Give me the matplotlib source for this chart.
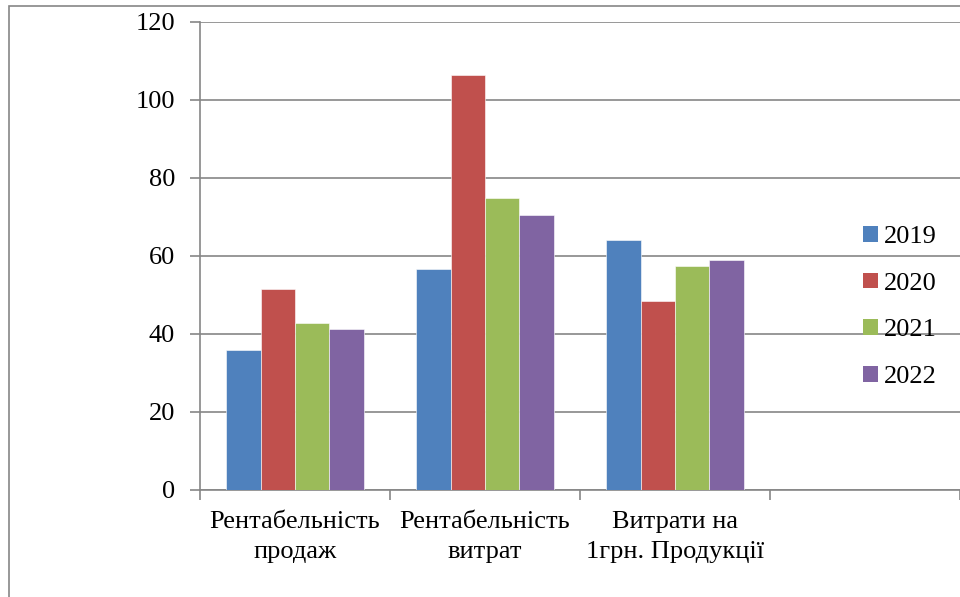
import matplotlib
matplotlib.use("Agg")
import matplotlib.pyplot as plt
from matplotlib.patches import Patch, Rectangle
import numpy as np

categories = ["Рентабельність\nпродаж", "Рентабельність\nвитрат", "Витрати на\n1грн. Продукції", ""]
years = ["2019", "2020", "2021", "2022"]
v2019 = [36.0, 56.6, 64.0]
v2020 = [51.6, 106.4, 48.5]
v2021 = [42.7, 74.9, 57.4]
v2022 = [41.4, 70.6, 58.9]
colors = ["#4F81BD", "#C0504D", "#9BBB59", "#8064A2"]
yticks = [0, 20, 40, 60, 80, 100, 120]

plt.rcParams["font.family"] = ["Liberation Serif", "DejaVu Serif"]
grid_col = "#868686"
fs = 19

fig = plt.figure(figsize=(9.6, 5.97), dpi=100)
ax = fig.add_axes([200 / 960, 107 / 597, 760 / 960, 468 / 597])

series = [v2019, v2020, v2021, v2022]
x = np.arange(len(v2019))
bw = 0.726 / 4
for i, (vals, col, yr) in enumerate(zip(series, colors, years)):
    ax.bar(x - 0.363 + bw * (i + 0.5), vals, width=bw, color=col,
           edgecolor="white", linewidth=0.4, label=yr, zorder=3)

ax.set_xlim(-0.5, 3.5)
ax.set_ylim(0, 120)
ax.set_yticks(yticks)
ax.set_yticklabels([str(t) for t in yticks], fontsize=fs)
ax.yaxis.grid(True, color=grid_col, linewidth=1.2, zorder=0)

# category boundaries get the ticks, labels sit in the middle of each slot
ax.set_xticks(np.arange(-0.5, 4.0, 1.0))
ax.set_xticklabels([])
ax.set_xticks(np.arange(4), minor=True)
ax.set_xticklabels(categories, minor=True, fontsize=fs)
for lbl in ax.get_xticklabels(minor=True):
    lbl.set_linespacing(1.5)
ax.tick_params(axis="x", which="minor", length=0, pad=15)
ax.tick_params(axis="x", which="major", length=7, color=grid_col, width=1.2)
ax.tick_params(axis="y", length=7, color=grid_col, width=1.2, pad=11)

for side in ["top", "right"]:
    ax.spines[side].set_visible(False)
for side in ["left", "bottom"]:
    ax.spines[side].set_color(grid_col)
    ax.spines[side].set_linewidth(1.2)

handles = [Patch(facecolor=c, label=y) for c, y in zip(colors, years)]
fig.legend(handles=handles, loc="center left", bbox_to_anchor=(863 / 960, 1 - 307 / 597),
           frameon=False, fontsize=fs, handlelength=0.55, handleheight=0.55,
           handletextpad=0.25, labelspacing=0.92, borderpad=0, borderaxespad=0)

# outer chart border (cropped)
fig.patches.append(Rectangle((9 / 960, -0.1), 1.2, 1.1 - 6 / 597, transform=fig.transFigure,
                             fill=False, edgecolor=grid_col, linewidth=1.2))

fig.savefig("out.png", dpi=100)
